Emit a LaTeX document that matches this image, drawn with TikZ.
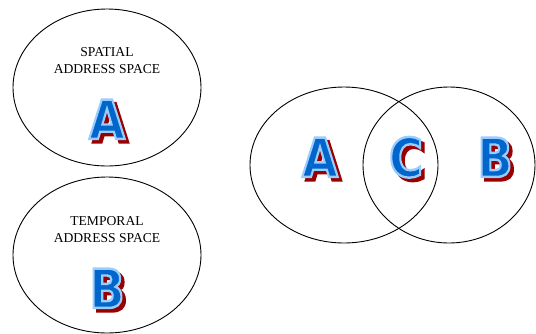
\documentclass[tikz,border=0pt]{standalone}
\usepackage{fontspec}
\setmainfont{Liberation Serif}
\newfontfamily\letterfont{DejaVu Sans Bold}[FakeBold=4.5]
\usetikzlibrary{shapes.geometric}
\definecolor{fillblue}{HTML}{0066CC}
\definecolor{outlineblue}{HTML}{99CCFF}
\definecolor{shadowred}{HTML}{990000}
\tikzset{
  oval/.style={draw=black, line width=0.9pt, ellipse, inner sep=0pt},
  caption/.style={font=\fontsize{13.6}{17}\selectfont, align=center, inner sep=0pt},
  lettr/.style={font=\fontsize{54}{54}\selectfont\letterfont, inner sep=0pt},
}
% shadow glyph, then the glyph filled blue and stroked light blue
\newcommand\wordartglyph[1]{%
  \rlap{\kern3.5pt\raisebox{-3.5pt}{\textcolor{shadowred}{\scalebox{0.86}[1]{#1}}}}%
  {\color{fillblue}\special{pdf:literal direct 0.6 0.8 1 RG}\scalebox{0.86}[1]{#1}}}
\begin{document}
\begin{tikzpicture}[x=1pt,y=-1pt]
\useasboundingbox (0,0) rectangle (536,333);
\node[oval, minimum width=188, minimum height=157] (spatial) at (107,87.5) {};
\node[oval, minimum width=188, minimum height=156] (temporal) at (107,255) {};
\node[oval, minimum width=188, minimum height=156] (setA) at (344,165) {};
\node[oval, minimum width=172, minimum height=156] (setB) at (449,165) {};
\node[caption] (spcap) at (107,61) {SPATIAL\\ADDRESS SPACE};
\node[caption] (tmcap) at (107,230) {TEMPORAL\\ADDRESS SPACE};
\node[lettr] (la) at (107,121) {\wordartglyph{A}};
\node[lettr] (lb) at (107,290) {\wordartglyph{B}};
\node[lettr] (ra) at (320,159) {\wordartglyph{A}};
\node[lettr] (rc) at (406,159) {\wordartglyph{C}};
\node[lettr] (rb) at (495,159) {\wordartglyph{B}};
\end{tikzpicture}
\end{document}
